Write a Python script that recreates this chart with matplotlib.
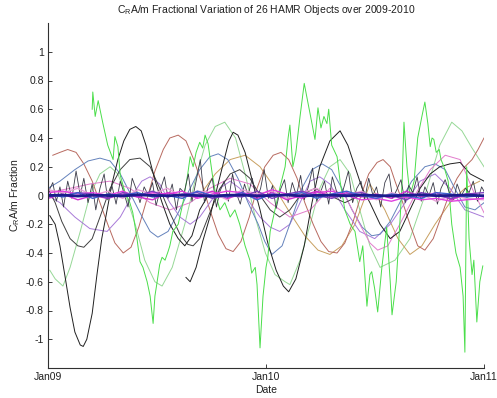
import matplotlib
matplotlib.use("Agg")
import matplotlib.pyplot as plt

plt.rcParams['font.family'] = ['Liberation Sans', 'DejaVu Sans']

# ---------------- data (days since 1 Jan 2009, fractional variation) ----------------
x_tick_days = [0, 365, 730]
x_tick_labels = ['Jan09', 'Jan10', 'Jan11']
y_ticks = [-1, -0.8, -0.6, -0.4, -0.2, 0, 0.2, 0.4, 0.6, 0.8, 1]

green_a_days = [74, 75, 79, 84, 92, 100, 109, 112, 117, 121,
                129, 137, 142, 149, 154, 159, 166, 171, 176, 179,
                182, 187, 191, 196, 201, 204, 209, 218, 226, 234,
                238, 243, 248, 254, 259, 263, 268, 275, 281, 288,
                296, 305, 313, 321, 330, 338, 341, 347, 350, 355,
                360, 365, 368, 372, 380, 388, 397, 402, 405, 410,
                415, 422, 429, 435, 442, 447, 452, 457, 462, 467,
                470, 475, 484, 489, 497, 506, 514, 522, 527, 534,
                539, 542, 547, 552, 559, 567, 573, 576, 583, 589,
                593, 596, 601, 606, 613, 619, 626, 631, 636, 640,
                643, 646, 650, 655, 658, 663, 670, 676, 683, 690,
                695, 698, 701, 705, 710, 713, 718, 723, 728]
green_a_vals = [0.60, 0.72, 0.55, 0.66, 0.50, 0.35, 0.25, 0.41, 0.34, 0.14,
                0.02, -0.05, -0.12, -0.30, -0.46, -0.50, -0.60, -0.70, -0.89, -0.70,
                -0.62, -0.48, -0.43, -0.45, -0.39, -0.35, -0.25, -0.20, -0.05, 0.15,
                0.27, 0.20, 0.30, 0.37, 0.33, 0.42, 0.36, 0.15, 0.00, -0.10,
                -0.05, -0.15, -0.10, -0.20, -0.35, -0.45, -0.54, -0.50, -0.62, -1.06,
                -0.70, -0.50, -0.43, -0.25, -0.10, 0.05, 0.20, 0.40, 0.49, 0.20,
                0.30, 0.55, 0.78, 0.65, 0.50, 0.39, 0.61, 0.47, 0.55, 0.50,
                0.60, 0.35, 0.27, 0.10, -0.10, -0.20, -0.25, -0.46, -0.35, -0.77,
                -0.55, -0.53, -0.65, -0.81, -0.50, -0.22, -0.60, -0.83, -0.60, -0.20,
                0.10, 0.51, 0.20, 0.00, 0.10, 0.40, 0.55, 0.65, 0.50, 0.34,
                0.40, 0.39, 0.30, 0.32, 0.25, 0.20, 0.10, -0.20, -0.40, -0.50,
                -0.70, -1.09, 0.20, -0.30, -0.55, -0.45, -0.88, -0.60, -0.49]

pale_green_days = [3, 12, 25, 37, 54, 70, 87, 104, 117, 129,
                   146, 162, 179, 191, 208, 229, 246, 263, 280, 296,
                   314, 330, 347, 364, 380, 397, 405, 422, 439, 455,
                   472, 489, 506, 522, 539, 556, 581, 606, 631, 656,
                   676, 693, 710, 730]
pale_green_vals = [-0.52, -0.58, -0.63, -0.50, -0.25, 0.00, 0.15, 0.20, 0.15, 0.02,
                   -0.20, -0.45, -0.60, -0.63, -0.50, -0.20, 0.10, 0.35, 0.48, 0.51,
                   0.40, 0.15, -0.15, -0.40, -0.55, -0.60, -0.62, -0.45, -0.20, 0.05,
                   0.20, 0.25, 0.15, -0.10, -0.35, -0.50, -0.45, -0.30, 0.00, 0.35,
                   0.51, 0.45, 0.33, 0.20]

black_a_days = [3, 12, 20, 28, 37, 45, 54, 59, 65, 74,
                82, 90, 99, 107, 117, 127, 137, 147, 156, 164,
                172, 181, 191, 204, 218, 229, 241, 254, 268]
black_a_vals = [-0.14, -0.20, -0.35, -0.55, -0.78, -0.95, -1.04, -1.05, -1.00, -0.82,
                -0.55, -0.30, -0.10, 0.08, 0.25, 0.38, 0.46, 0.48, 0.45, 0.35,
                0.22, 0.08, -0.05, -0.20, -0.30, -0.35, -0.28, -0.10, 0.00]

black_c_days = [231, 238, 248, 259, 271, 283, 295, 303, 310, 318,
                330, 341, 355, 368, 382, 394, 403, 415, 429, 442,
                455, 472, 489, 502, 514, 526, 539, 556, 573, 589,
                606, 623, 640, 656, 673, 690, 707, 730]
black_c_vals = [-0.57, -0.60, -0.50, -0.32, -0.15, 0.05, 0.25, 0.38, 0.44, 0.42,
                0.30, 0.12, -0.10, -0.33, -0.52, -0.63, -0.67, -0.58, -0.35, -0.05,
                0.20, 0.38, 0.45, 0.35, 0.20, 0.05, -0.05, -0.20, -0.30, -0.25,
                -0.10, 0.05, 0.15, 0.20, 0.22, 0.23, 0.15, 0.10]

black_d_days = [0, 12, 23, 37, 50, 60, 74, 87, 104, 121,
                137, 154, 171, 187, 204, 221, 234, 243, 254, 271,
                288, 305, 321, 338, 355, 372, 388, 405, 422, 447,
                472, 497, 522]
black_d_vals = [0.05, -0.05, -0.18, -0.30, -0.35, -0.36, -0.30, -0.15, 0.05, 0.18,
                0.25, 0.26, 0.20, 0.05, -0.12, -0.27, -0.34, -0.35, -0.30, -0.12,
                0.05, 0.15, 0.18, 0.12, 0.00, -0.10, -0.15, -0.10, 0.00, 0.05,
                0.00, -0.05, 0.00]

brown_days = [8, 20, 33, 47, 60, 74, 87, 100, 112, 126,
              139, 152, 166, 179, 193, 204, 218, 231, 244, 258,
              271, 285, 298, 310, 323, 337, 350, 363, 377, 390,
              403, 417, 430, 444, 457, 470, 484, 497, 511, 524,
              537, 551, 561, 573, 581, 594, 606, 619, 631, 645,
              658, 671, 685, 698, 710, 720, 730]
brown_vals = [0.28, 0.30, 0.32, 0.30, 0.22, 0.10, -0.05, -0.20, -0.33, -0.40,
              -0.36, -0.22, -0.02, 0.17, 0.32, 0.40, 0.42, 0.38, 0.25, 0.08,
              -0.10, -0.27, -0.37, -0.39, -0.32, -0.15, 0.05, 0.20, 0.28, 0.30,
              0.25, 0.12, -0.05, -0.20, -0.32, -0.39, -0.40, -0.33, -0.18, 0.00,
              0.15, 0.23, 0.25, 0.20, 0.10, -0.05, -0.20, -0.35, -0.38, -0.30,
              -0.15, 0.00, 0.12, 0.20, 0.25, 0.32, 0.40]

tan_days = [254, 280, 305, 330, 355, 380, 405, 430, 452, 472,
            492, 514, 539, 564, 586, 606, 626, 648, 673, 698, 723]
tan_vals = [0.00, 0.15, 0.25, 0.28, 0.20, 0.05, -0.12, -0.28, -0.38, -0.41,
            -0.35, -0.20, 0.08, -0.10, -0.30, -0.41, -0.35, -0.20, -0.05, 0.05, 0.10]

purple_days = [0, 20, 45, 70, 99, 121, 141, 157, 171, 187,
               204, 221, 238, 254, 271, 288, 305, 321, 338, 355,
               372, 388, 405, 422, 439, 455, 472, 497, 522, 547,
               573, 598, 623, 648, 673, 698, 730]
purple_vals = [0.00, -0.05, -0.15, -0.23, -0.25, -0.15, 0.00, 0.10, 0.13, 0.08,
               -0.05, -0.15, -0.20, -0.15, -0.05, 0.05, 0.10, 0.05, -0.05, -0.15,
               -0.22, -0.25, -0.20, -0.05, 0.10, 0.13, 0.08, -0.10, -0.25, -0.30,
               -0.20, -0.05, 0.10, 0.15, 0.05, -0.10, -0.15]

slate_days = [0, 20, 45, 67, 87, 104, 121, 137, 154, 171,
              184, 201, 218, 238, 254, 271, 285, 301, 318, 335,
              352, 363, 375, 392, 409, 425, 442, 459, 475, 492,
              509, 526, 542, 556, 573, 589, 609, 631, 648, 665,
              681, 698, 715, 730]
slate_vals = [0.05, 0.10, 0.18, 0.24, 0.26, 0.24, 0.15, 0.02, -0.12, -0.25,
              -0.29, -0.25, -0.12, 0.05, 0.18, 0.27, 0.29, 0.25, 0.12, -0.05,
              -0.20, -0.32, -0.41, -0.35, -0.15, 0.05, 0.18, 0.22, 0.18, 0.05,
              -0.10, -0.22, -0.28, -0.27, -0.18, -0.05, 0.10, 0.20, 0.22, 0.18,
              0.05, -0.08, -0.10, -0.05]

pink_days = [0, 37, 70, 104, 137, 171, 204, 238, 271, 305,
             338, 372, 405, 439, 472, 497, 522, 539, 552, 569,
             589, 614, 640, 665, 690, 710, 730]
pink_vals = [0.02, 0.05, 0.08, 0.10, 0.05, -0.05, -0.10, -0.05, 0.05, 0.12,
             0.08, -0.05, -0.15, -0.10, 0.05, 0.00, -0.20, -0.33, -0.38, -0.35,
             -0.20, 0.00, 0.18, 0.28, 0.25, 0.05, -0.12]

jag_days = [0, 8, 14, 20, 26, 33, 40, 47, 54, 60,
            67, 74, 80, 87, 94, 100, 107, 114, 121, 127,
            134, 141, 148, 154, 161, 168, 175, 181, 188, 195,
            201, 208, 215, 221, 228, 235, 241, 248, 255, 262,
            268, 275, 282, 288, 295, 302, 309, 315, 322, 329,
            335, 342, 349, 356, 362, 369, 376, 382, 389, 396,
            402, 409, 416, 423, 429, 436, 443, 450, 456, 463,
            470, 476, 483, 490, 497, 503, 510, 517, 524, 530,
            537, 544, 550, 557, 564, 571, 577, 584, 591, 598,
            604, 611, 618, 625, 631, 638, 645, 652, 658, 665,
            672, 679, 685, 692, 699, 705, 712, 719, 726, 730]
jag_vals = [0.02, 0.09, -0.04, 0.06, -0.08, 0.10, -0.02, 0.17, 0.00, 0.12,
            -0.05, 0.08, -0.10, 0.05, 0.15, -0.03, 0.07, -0.06, 0.10, 0.02,
            -0.08, 0.12, 0.04, -0.05, 0.06, 0.00, 0.09, -0.07, 0.04, 0.13,
            -0.02, 0.08, -0.10, 0.05, 0.02, 0.15, -0.04, 0.10, 0.25, -0.05,
            0.06, 0.12, -0.08, 0.03, 0.10, -0.04, 0.15, 0.02, -0.06, 0.08,
            0.00, 0.12, -0.03, 0.05, 0.18, -0.02, 0.07, -0.09, 0.04, 0.11,
            -0.05, 0.09, 0.00, 0.14, -0.03, 0.06, 0.19, -0.04, 0.02, 0.10,
            -0.06, 0.13, 0.03, -0.02, 0.08, 0.17, -0.05, 0.05, 0.10, -0.03,
            0.12, 0.00, 0.06, -0.08, 0.09, 0.15, -0.02, 0.04, 0.11, -0.05,
            0.07, 0.02, 0.13, -0.04, 0.06, 0.00, 0.09, -0.06, 0.05, 0.11,
            0.02, -0.03, 0.08, 0.00, 0.05, 0.02, 0.10, -0.04, 0.06, 0.03]

band_days = [0, 25, 50, 75, 100, 125, 150, 175, 200, 225,
             250, 275, 300, 325, 350, 375, 400, 425, 450, 475,
             500, 525, 550, 575, 600, 625, 650, 675, 700, 730]
band_navy = [0.000, 0.003, -0.004, 0.002, 0.000, -0.003, 0.004, 0.001, -0.002, 0.003,
             0.000, -0.004, 0.002, 0.003, -0.002, 0.000, 0.004, -0.003, 0.001, 0.002,
             -0.002, 0.003, 0.000, -0.003, 0.002, 0.004, -0.001, 0.000, 0.003, -0.002]
band_magenta1 = [0.02, 0.03, 0.01, 0.02, 0.00, 0.03, -0.01, 0.02, 0.01, 0.03,
                 -0.02, 0.01, 0.03, 0.02, 0.00, 0.04, 0.01, -0.02, 0.02, 0.03,
                 0.00, -0.03, -0.02, -0.04, -0.01, -0.03, -0.02, -0.04, -0.03, -0.02]
band_magenta2 = [-0.02, 0.01, -0.03, 0.00, -0.02, 0.01, -0.01, -0.03, 0.02, 0.00,
                 -0.01, 0.03, -0.02, 0.01, -0.02, 0.02, -0.03, 0.00, 0.03, -0.01,
                 0.02, -0.01, 0.01, -0.02, 0.03, -0.01, 0.02, -0.03, 0.01, -0.01]
band_blue = [0.01, -0.01, 0.02, -0.02, 0.01, 0.00, 0.02, -0.01, 0.00, -0.02,
             0.03, 0.00, -0.01, 0.02, -0.03, 0.01, 0.00, 0.02, -0.02, 0.01,
             0.03, 0.00, -0.02, 0.01, 0.00, -0.02, 0.02, 0.01, -0.01, 0.00]
band_pink = [0.04, 0.02, 0.05, 0.00, 0.03, -0.02, 0.04, 0.01, 0.05, -0.01,
             0.03, 0.02, -0.03, 0.04, 0.01, 0.03, -0.02, 0.02, 0.05, -0.01,
             0.00, 0.03, -0.03, 0.02, -0.01, 0.01, -0.04, 0.00, -0.02, -0.03]
band_purple = [-0.01, 0.00, 0.02, 0.01, -0.02, 0.02, 0.00, 0.03, -0.01, 0.01,
               0.02, -0.02, 0.00, -0.01, 0.03, -0.02, 0.01, 0.03, 0.00, -0.02,
               0.01, 0.02, -0.01, 0.00, -0.03, 0.02, 0.00, -0.02, 0.01, 0.02]

# ---------------- figure ----------------
fig = plt.figure(figsize=(4.97, 3.98), dpi=100)
ax = fig.add_axes([48 / 497, 1 - 368 / 398, 436 / 497, 345 / 398])

lw = 0.7
ax.plot(pale_green_days, pale_green_vals, color='#96d896', lw=lw)
ax.plot(tan_days, tan_vals, color='#c8a060', lw=lw)
ax.plot(brown_days, brown_vals, color='#b86a60', lw=lw)
ax.plot(purple_days, purple_vals, color='#a87ad8', lw=lw)
ax.plot(slate_days, slate_vals, color='#6482bc', lw=lw)
ax.plot(pink_days, pink_vals, color='#e27ccc', lw=lw)
ax.plot(black_d_days, black_d_vals, color='#404040', lw=lw)
ax.plot(black_a_days, black_a_vals, color='#202020', lw=lw)
ax.plot(black_c_days, black_c_vals, color='#202020', lw=lw)
ax.plot(green_a_days, green_a_vals, color='#4ade4a', lw=lw)
ax.plot(jag_days, jag_vals, color='#3a3a48', lw=0.6)

ax.plot(band_days, band_pink, color='#e8a0d8', lw=1.0)
ax.plot(band_days, band_magenta1, color='#e040e0', lw=1.0)
ax.plot(band_days, band_magenta2, color='#d030d0', lw=1.0)
ax.plot(band_days, band_purple, color='#8040c0', lw=1.0)
ax.plot(band_days, band_blue, color='#4060d0', lw=1.0)
ax.plot(band_days, band_navy, color='#1c1c8c', lw=2.0)

ax.set_xlim(x_tick_days[0], x_tick_days[-1])
ax.set_ylim(-1.2, 1.2)
ax.set_xticks(x_tick_days)
ax.set_xticklabels(x_tick_labels)
ax.set_yticks(y_ticks)
ax.set_yticklabels([f'{v:g}' for v in y_ticks])

for s in ['top', 'right']:
    ax.spines[s].set_visible(False)
for s in ['left', 'bottom']:
    ax.spines[s].set_color('#303030')
    ax.spines[s].set_linewidth(0.8)
ax.tick_params(direction='in', length=3, width=0.6, labelsize=7.5,
               colors='#202020', pad=3)

fig.text(266 / 497, 1 - 10 / 398,
         r'$\mathregular{C_R}$A/m Fractional Variation of 26 HAMR Objects over 2009-2010',
         fontsize=7.5, color='#202020', ha='center', va='center')
ax.set_xlabel('Date', fontsize=7.5, color='#202020', labelpad=2)
ax.set_ylabel(r'$\mathregular{C_R}$A/m Fraction', fontsize=7.5, color='#202020', labelpad=3)

fig.savefig('out.png', dpi=100)
